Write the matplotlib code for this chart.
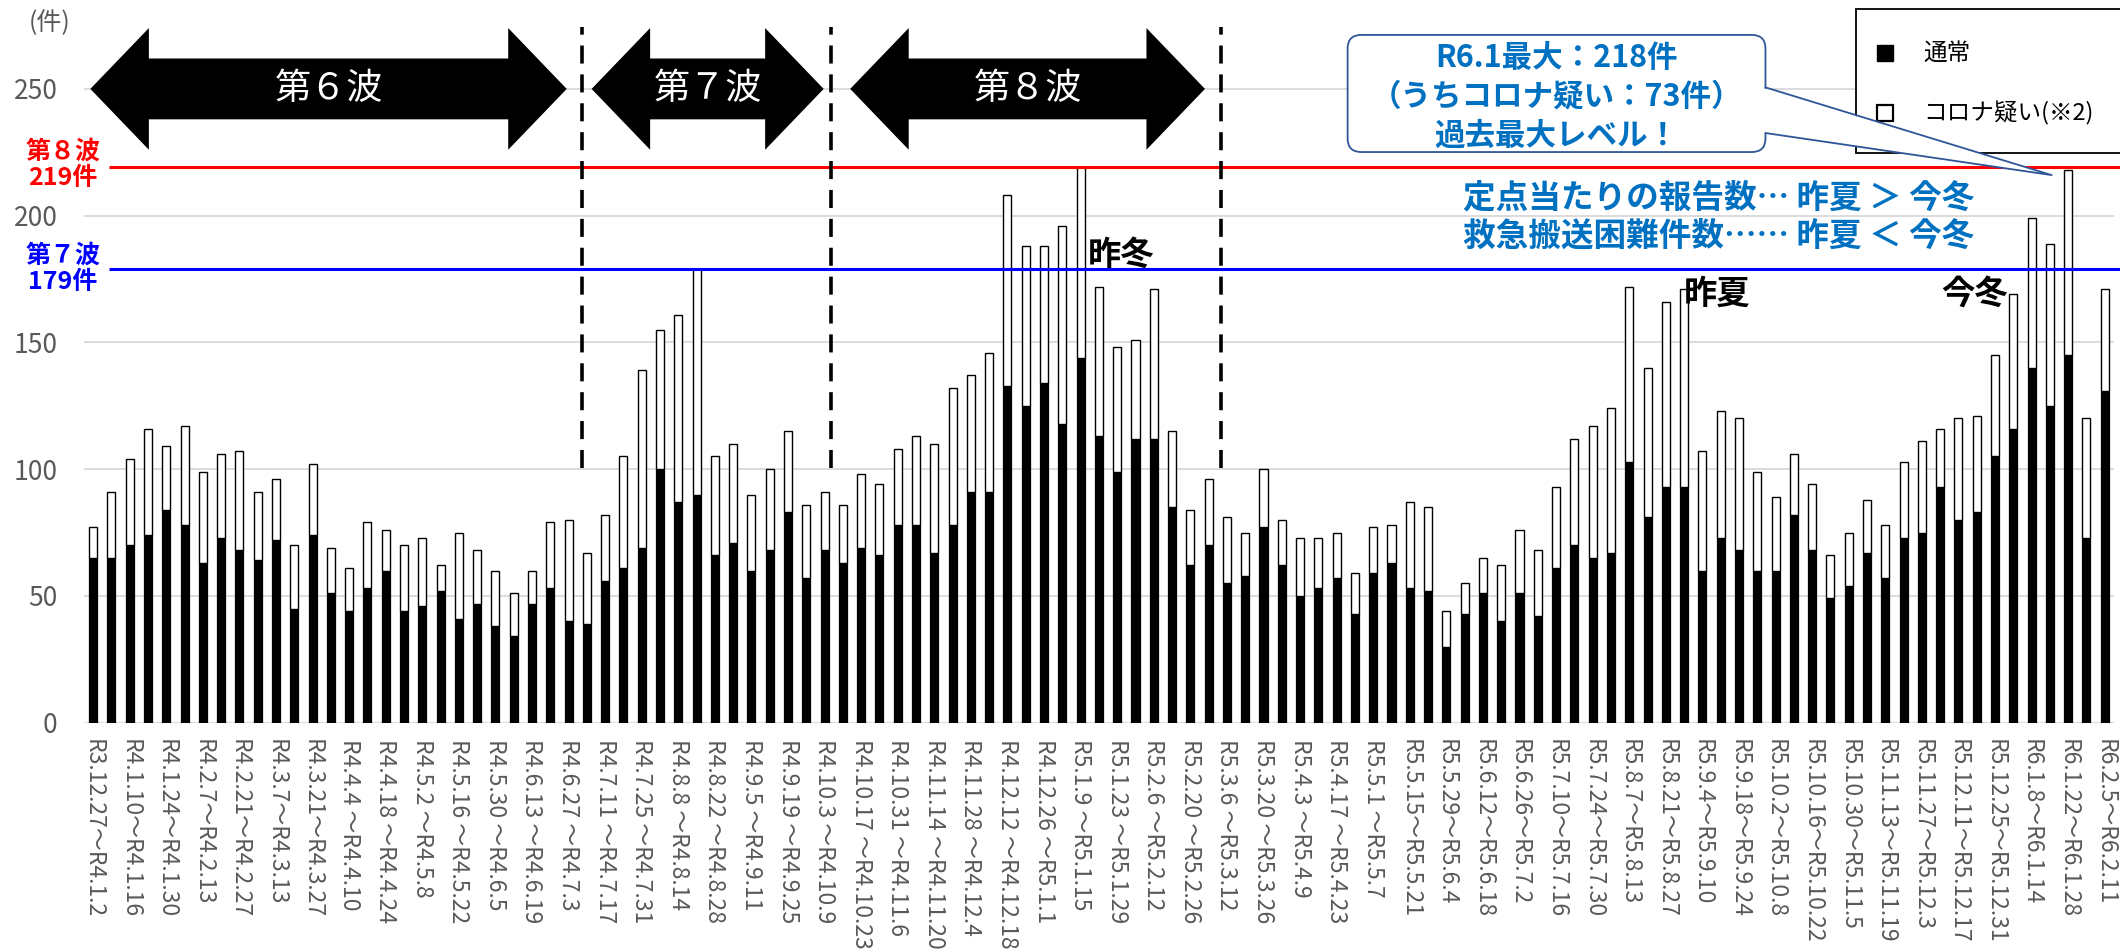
import numpy as np
import matplotlib.pyplot as plt
from matplotlib.patches import Polygon, FancyBboxPatch, Rectangle

plt.rcParams['font.family'] = ['Noto Sans CJK JP', 'DejaVu Sans']

# weekly ranges, one label every second week
week_labels = [
    "R3.12.27～R4.1.2", "R4.1.10～R4.1.16", "R4.1.24～R4.1.30", "R4.2.7～R4.2.13",
    "R4.2.21～R4.2.27", "R4.3.7～R4.3.13", "R4.3.21～R4.3.27", "R4.4.4 ～R4.4.10",
    "R4.4.18 ～R4.4.24", "R4.5.2 ～R4.5.8", "R4.5.16 ～R4.5.22", "R4.5.30 ～R4.6.5",
    "R4.6.13 ～R4.6.19", "R4.6.27 ～R4.7.3", "R4.7.11 ～R4.7.17", "R4.7.25 ～R4.7.31",
    "R4.8.8 ～R4.8.14", "R4.8.22 ～R4.8.28", "R4.9.5 ～R4.9.11", "R4.9.19 ～R4.9.25",
    "R4.10.3 ～R4.10.9", "R4.10.17 ～R4.10.23", "R4.10.31 ～R4.11.6", "R4.11.14 ～R4.11.20",
    "R4.11.28 ～R4.12.4", "R4.12.12 ～R4.12.18", "R4.12.26 ～R5.1.1", "R5.1.9 ～R5.1.15",
    "R5.1.23 ～R5.1.29", "R5.2.6 ～R5.2.12", "R5.2.20 ～R5.2.26", "R5.3.6 ～R5.3.12",
    "R5.3.20 ～R5.3.26", "R5.4.3 ～R5.4.9", "R5.4.17 ～R5.4.23", "R5.5.1 ～R5.5.7",
    "R5.5.15～R5.5.21", "R5.5.29～R5.6.4", "R5.6.12～R5.6.18", "R5.6.26～R5.7.2",
    "R5.7.10～R5.7.16", "R5.7.24～R5.7.30", "R5.8.7～R5.8.13", "R5.8.21～R5.8.27",
    "R5.9.4～R5.9.10", "R5.9.18～R5.9.24", "R5.10.2～R5.10.8", "R5.10.16～R5.10.22",
    "R5.10.30～R5.11.5", "R5.11.13～R5.11.19", "R5.11.27～R5.12.3", "R5.12.11～R5.12.17",
    "R5.12.25～R5.12.31", "R6.1.8～R6.1.14", "R6.1.22～R6.1.28", "R6.2.5～R6.2.11",
]

# 通常
normal = [
    65, 65, 70, 74, 84, 78, 63, 73, 68, 64,
    72, 45, 74, 51, 44, 53, 60, 44, 46, 52,
    41, 47, 38, 34, 47, 53, 40, 39, 56, 61,
    69, 100, 87, 90, 66, 71, 60, 68, 83, 57,
    68, 63, 69, 66, 78, 78, 67, 78, 91, 91,
    133, 125, 134, 118, 144, 113, 99, 112, 112, 85,
    62, 70, 55, 58, 77, 62, 50, 53, 57, 43,
    59, 63, 53, 52, 30, 43, 51, 40, 51, 42,
    61, 70, 65, 67, 103, 81, 93, 93, 60, 73,
    68, 60, 60, 82, 68, 49, 54, 67, 57, 73,
    75, 93, 80, 83, 105, 116, 140, 125, 145, 73,
    131,
]

# コロナ疑い
suspected = [
    12, 26, 34, 42, 25, 39, 36, 33, 39, 27,
    24, 25, 28, 18, 17, 26, 16, 26, 27, 10,
    34, 21, 22, 17, 13, 26, 40, 28, 26, 44,
    70, 55, 74, 89, 39, 39, 30, 32, 32, 29,
    23, 23, 29, 28, 30, 35, 43, 54, 46, 55,
    75, 63, 54, 78, 75, 59, 49, 39, 59, 30,
    22, 26, 26, 17, 23, 18, 23, 20, 18, 16,
    18, 15, 34, 33, 14, 12, 14, 22, 25, 26,
    32, 42, 52, 57, 69, 59, 73, 78, 47, 50,
    52, 39, 29, 24, 26, 17, 21, 21, 21, 30,
    36, 23, 40, 38, 40, 53, 59, 64, 73, 47,
    40,
]

wave7_peak = 179
wave8_peak = 219
wave_names = ["第６波", "第７波", "第８波"]
wave_spans = [(-0.15, 25.9), (27.26, 39.95), (41.4, 60.8)]
wave_borders = [26.75, 40.37, 61.65]

x = np.arange(len(normal))
gray = '#595959'
blue_txt = '#0070C0'

fig = plt.figure(figsize=(21.2, 9.52), dpi=100)
ax = fig.add_axes([0.0396, 0.2409, 0.9575, 0.7589])
ax.set_xlim(-0.5, 110.5)
ax.set_ylim(0, 285)

ax.bar(x, normal, width=0.44, color='black', edgecolor='black', linewidth=0.9, zorder=2)
ax.bar(x, suspected, bottom=normal, width=0.44, color='white', edgecolor='black',
       linewidth=1.0, zorder=2)

for s in ax.spines.values():
    s.set_visible(False)
ax.set_yticks(range(0, 251, 50))
ax.yaxis.grid(True, color='#D9D9D9', linewidth=1.3)
ax.set_axisbelow(True)
ax.tick_params(axis='y', length=0, pad=19, labelsize=19, labelcolor=gray)
ax.set_xticks(x[::2])
ax.set_xticklabels(week_labels, rotation=270, fontsize=16.5, color=gray, ha='center', va='top')
ax.tick_params(axis='x', length=0, pad=12)

ax.text(-2.37, 276, "(件)", fontsize=18, color=gray, ha='center', va='center', clip_on=False)

# peak reference lines
ax.hlines(wave8_peak, 0.85, 111, color='red', linewidth=2.2, zorder=4, clip_on=False)
ax.hlines(wave7_peak, 0.85, 111, color='blue', linewidth=2.2, zorder=4, clip_on=False)
ax.text(-1.66, wave8_peak + 1, "第８波\n219件", color='red', fontsize=18, fontweight='bold',
        ha='center', va='center', linespacing=1.1, clip_on=False)
ax.text(-1.66, wave7_peak, "第７波\n179件", color='blue', fontsize=18, fontweight='bold',
        ha='center', va='center', linespacing=1.1, clip_on=False)

# wave boundaries
ax.vlines(wave_borders, 100.5, 274.5, colors='black', linewidth=2.6,
          linestyles=(0, (5, 3)), zorder=4)

# double-headed wave arrows
hl = 3.2
for (x0, x1), name in zip(wave_spans, wave_names):
    pts = [(x0, 250), (x0 + hl, 274), (x0 + hl, 262), (x1 - hl, 262), (x1 - hl, 274),
           (x1, 250), (x1 - hl, 226), (x1 - hl, 238), (x0 + hl, 238), (x0 + hl, 226)]
    ax.add_patch(Polygon(pts, closed=True, facecolor='black', edgecolor='none', zorder=5))
    ax.text((x0 + x1) / 2, 250, name, color='white', fontsize=26, ha='center',
            va='center', zorder=6)

# season labels
ax.text(56.2, 184.5, "昨冬", fontsize=24, fontweight='bold', ha='center', va='center', zorder=6)
ax.text(88.8, 169, "昨夏", fontsize=24, fontweight='bold', ha='center', va='center', zorder=6)
ax.text(102.9, 169, "今冬", fontsize=24, fontweight='bold', ha='center', va='center', zorder=6)

ax.text(88.9, 207.0, "定点当たりの報告数… 昨夏 ＞ 今冬", fontsize=23.5, fontweight='bold',
        color=blue_txt, ha='center', va='center', zorder=6)
ax.text(88.9, 192.0, "救急搬送困難件数…… 昨夏 ＜ 今冬", fontsize=23.5, fontweight='bold',
        color=blue_txt, ha='center', va='center', zorder=6)

# legend
ax.add_patch(Rectangle((96.4, 224.7), 20, 56.8, facecolor='white', edgecolor='black',
                       linewidth=1.3, zorder=6, clip_on=False))
ax.plot(98.0, 264.2, 's', ms=12, color='black', zorder=7, clip_on=False)
ax.plot(98.0, 240.5, 's', ms=11, mfc='white', mec='black', mew=1.6, zorder=7, clip_on=False)
ax.text(100.1, 264.2, "通常", fontsize=17, ha='left', va='center', zorder=7)
ax.text(100.1, 240.5, "コロナ疑い(※2)", fontsize=17, ha='left', va='center', zorder=7)

# callout for the latest peak
edge = '#2F5597'
ax.add_patch(FancyBboxPatch((68.6, 225.1), 22.85, 46.2,
                            boxstyle="round,pad=0,rounding_size=0.75",
                            mutation_aspect=7.2, facecolor='white', edgecolor=edge,
                            linewidth=1.3, zorder=8))
tip = (107.1, 216)
ax.add_patch(Polygon([(91.2, 250.6), tip, (91.2, 232.6)], closed=True,
                     facecolor='white', edgecolor='none', zorder=9))
ax.plot([91.45, tip[0], 91.45], [250.6, tip[1], 232.6], color=edge, linewidth=1.3, zorder=9)
for yy, line in zip([262.0, 247.0, 231.5], ["R6.1最大：218件", "（うちコロナ疑い：73件）",
                                             "過去最大レベル！"]):
    ax.text(80.0, yy, line, fontsize=22, fontweight='bold', color=blue_txt,
            ha='center', va='center', zorder=10)

fig.savefig('out.png', dpi=100)
